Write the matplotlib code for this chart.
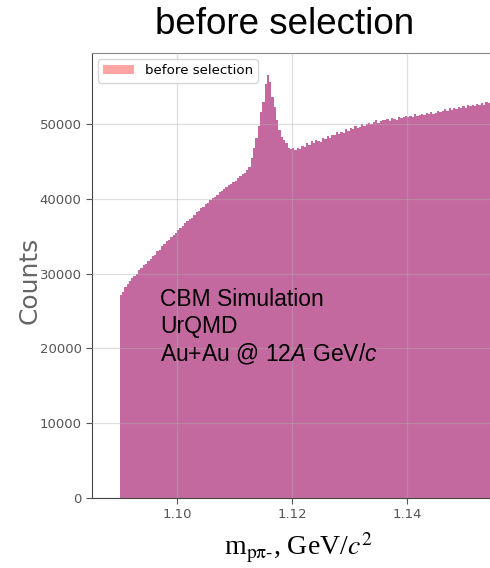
import numpy as np
import matplotlib
matplotlib.use("Agg")
import matplotlib.pyplot as plt
from matplotlib.patches import Patch

# histogram: bin edges start / width, counts per bin
bin_start = 1.0900
bin_width = 0.0004
counts = [
    27100, 27600, 28200, 28600, 29000, 29400, 29700, 30000, 30500, 30700,
    31100, 31300, 31700, 32000, 32400, 32500, 33000, 33200, 33700, 33900,
    34300, 34500, 34900, 35200, 35400, 35900, 36100, 36400, 36800, 37000,
    37300, 37500, 37900, 38200, 38400, 38800, 38900, 39300, 39500, 39800,
    40100, 40300, 40500, 40900, 41100, 41300, 41600, 41800, 42000, 42300,
    42400, 42800, 43000, 43300, 43500,
    43800, 44300, 45400, 46800, 48200, 49800, 51600, 53000, 55300, 56500,
    55600, 53600, 52300, 50500, 49200, 48300, 47900, 47400, 46800, 46600,
    46800, 46500, 46800, 46700, 47100, 46900,
    47400, 47200, 47700, 47500, 47900, 47800, 47600, 48200, 48000, 48400,
    48200, 48600, 48500, 48900, 48700, 49000, 48800, 49300, 49100, 49500,
    49300, 49700, 49500, 49600, 50000, 49800, 50000, 50200, 50000, 50300,
    50500, 50200, 50400, 50600, 50500, 50700, 50400, 50800, 50700, 50600,
    51000, 50800, 50900, 51100, 50900, 51100, 51000, 51300, 51100, 51200,
    51400, 51200, 51500, 51300, 51600, 51400, 51500, 51800, 51600, 51700,
    52000, 51800, 52100, 51900, 52200, 52000, 52300, 52100, 52400, 52200,
    52500, 52400, 52600, 52400, 52700, 52600, 52800, 52600, 52900, 52800,
    53000,
]
edges = bin_start + bin_width * np.arange(len(counts) + 1)

title = "before selection"
legend_label = "before selection"
info_lines = ["CBM Simulation", "UrQMD", r"Au+Au @ 12$A$ GeV/$c$"]
yticks = [0, 10000, 20000, 30000, 40000, 50000]
xticks = [1.10, 1.12, 1.14]

plt.rcParams["mathtext.fontset"] = "custom"
plt.rcParams["mathtext.rm"] = "Liberation Sans"
plt.rcParams["mathtext.it"] = "Liberation Sans:italic"

fig = plt.figure(figsize=(4.9, 5.68), dpi=100)
ax = fig.add_axes([92 / 490, 1 - 498 / 568, 1 - 92 / 490, (498 - 53) / 568])

ax.stairs(counts, edges, fill=True, color="#C4699F", zorder=2)
ax.grid(True, color="#b0b0b0", alpha=0.4, lw=0.9, zorder=3)
ax.set_axisbelow(False)

ax.set_xlim(1.0852, 1.1544)
ax.set_ylim(0, 59500)
ax.set_xticks(xticks)
ax.set_xticklabels([f"{t:.2f}" for t in xticks])
ax.set_yticks(yticks)
ax.tick_params(labelsize=9.5, colors="#555555", length=4, width=0.8)
for s in ["left", "bottom"]:
    ax.spines[s].set_color("#444444")
ax.spines["top"].set_color("#888888")
ax.spines["right"].set_visible(False)

leg = ax.legend(handles=[Patch(facecolor="#FFA3A3", edgecolor="none", label=legend_label)],
                loc="upper left", fontsize=9.6, frameon=True, handlelength=2.3,
                borderaxespad=0.45)
leg.get_frame().set_edgecolor("#cccccc")

fig.text(285 / 490, 1 - 25 / 568, title, ha="center", va="center",
         fontsize=26.5, family="Liberation Sans")
fig.text(30 / 490, 1 - 280 / 568, "Counts", rotation=90, ha="center", va="center",
         fontsize=18, color="#666666")
fig.text(298 / 490, 1 - 548 / 568, r"m$_{\mathrm{p\pi\text{-}}}$, GeV/$c^2$",
         ha="center", va="center", fontsize=20, family="Liberation Serif",
         math_fontfamily="stix")
fig.text(160 / 490, 1 - 288 / 568, "\n".join(info_lines), ha="left", va="top",
         fontsize=16.5, family="Liberation Sans", linespacing=1.22)

fig.savefig("out.png", dpi=100)
